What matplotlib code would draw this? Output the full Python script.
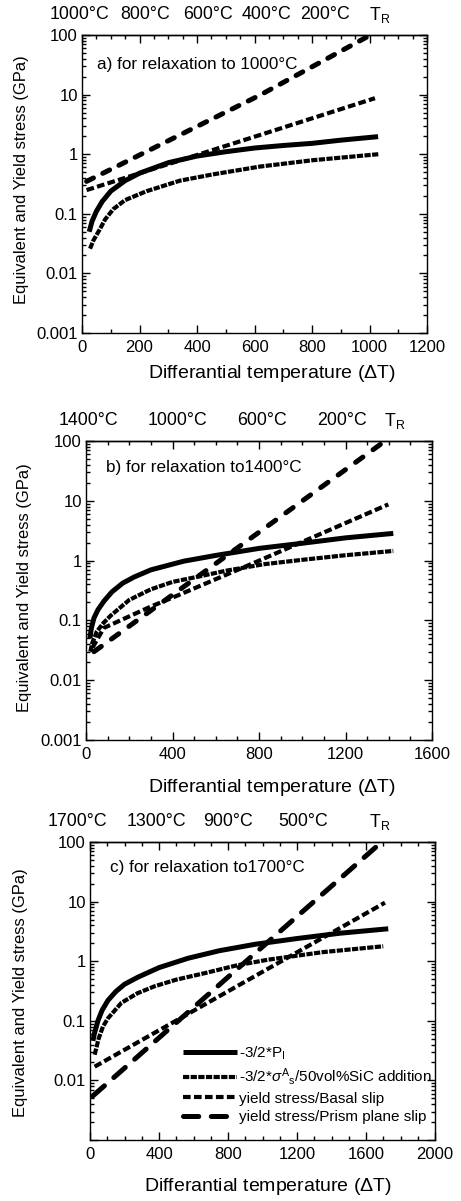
import matplotlib
matplotlib.use('Agg')
import matplotlib.pyplot as plt
from matplotlib.ticker import MultipleLocator, LogLocator, FixedLocator, FuncFormatter, NullFormatter

plt.rcParams['font.family'] = ['Liberation Sans', 'DejaVu Sans']
plt.rcParams['mathtext.fontset'] = 'custom'
plt.rcParams['mathtext.rm'] = 'Liberation Sans'
plt.rcParams['mathtext.it'] = 'Liberation Sans:italic'
plt.rcParams['mathtext.sf'] = 'Liberation Sans'
plt.rcParams['lines.scale_dashes'] = False

# values (x = differential temperature, y = stress in GPa)
# a) relaxation to 1000 C
a_dT_pi = [25, 35, 50, 70, 100, 150, 200, 300, 400, 500, 600, 700, 800, 900, 1030]
a_pi = [0.05, 0.075, 0.11, 0.16, 0.24, 0.36, 0.48, 0.72, 0.93, 1.1, 1.27, 1.4, 1.52, 1.72, 1.97]
a_dT_sic = [28, 40, 62, 80, 109, 150, 225, 341, 457, 619, 800, 1031]
a_sic = [0.026, 0.036, 0.055, 0.08, 0.12, 0.17, 0.24, 0.36, 0.46, 0.62, 0.79, 1.0]
a_dT_basal = [16, 619, 1019]
a_basal = [0.25, 2.1, 8.7]
a_dT_prism = [16, 619, 995]
a_prism = [0.35, 9.8, 95]
a_top_pos = [-7, 219, 438, 643, 845, 1037]
a_top_lab = ['1000°C', '800°C', '600°C', '400°C', '200°C', r'T$_\mathrm{R}$']

# b) relaxation to 1400 C
b_dT_pi = [18, 25, 37, 55, 83, 120, 170, 222, 300, 453, 600, 800, 1000, 1200, 1421]
b_pi = [0.05, 0.075, 0.11, 0.15, 0.21, 0.3, 0.42, 0.53, 0.7, 0.98, 1.22, 1.6, 1.95, 2.4, 2.85]
b_dT_sic = [20, 29, 50, 80, 114, 200, 299, 400, 530, 650, 823, 1000, 1200, 1421]
b_sic = [0.03, 0.042, 0.065, 0.09, 0.12, 0.22, 0.33, 0.44, 0.55, 0.68, 0.87, 1.03, 1.23, 1.45]
b_dT_basal = [30, 83, 299, 400, 781, 1398]
b_basal = [0.035, 0.075, 0.17, 0.24, 0.93, 8.7]
b_dT_prism = [37, 1383]
b_prism = [0.03, 100]
b_top_pos = [9, 425, 814, 1183, 1429]
b_top_lab = ['1400°C', '1000°C', '600°C', '200°C', r'T$_\mathrm{R}$']

# c) relaxation to 1700 C
c_dT_pi = [17, 25, 46, 70, 104, 150, 200, 278, 400, 568, 750, 956, 1200, 1450, 1729]
c_pi = [0.046, 0.06, 0.1, 0.15, 0.22, 0.31, 0.41, 0.54, 0.78, 1.12, 1.5, 1.92, 2.4, 2.95, 3.5]
c_dT_sic = [27, 50, 75, 104, 182, 275, 375, 500, 665, 850, 1032, 1350, 1700]
c_sic = [0.027, 0.05, 0.08, 0.11, 0.2, 0.29, 0.38, 0.49, 0.63, 0.85, 1.06, 1.42, 1.78]
c_dT_basal = [27, 1710]
c_basal = [0.017, 9.6]
c_dT_prism = [17, 1691]
c_prism = [0.0055, 100]
c_top_pos = [-70, 388, 800, 1235, 1681]
c_top_lab = ['1700°C', '1300°C', '900°C', '500°C', r'T$_\mathrm{R}$']

series_labels = [r'-3/2*P$_\mathrm{I}$',
                 r'-3/2*$\sigma^\mathrm{A}{}_\mathrm{s}$/50vol%SiC addition',
                 'yield stress/Basal slip',
                 'yield stress/Prism plane slip']
decades = [0.001, 0.01, 0.1, 1, 10, 100]

fig = plt.figure(figsize=(4.61, 12.01), dpi=100)


def panel(rect, xmax, xmajor, topminor, curves, top_pos, top_lab, title,
          title_xy, xlab_xy, ylab_xy, prism_dash, show001=True):
  ax = fig.add_axes(rect)
  (dpi_, pi_), (dsic, sic), (dbas, bas), (dpr, pr) = curves
  l1, = ax.plot(dpi_, pi_, color='k', lw=3.6, solid_capstyle='butt')
  l2, = ax.plot(dsic, sic, color='k', lw=3.0, dashes=(4.5, 1.0), dash_capstyle='butt')
  l3, = ax.plot(dbas, bas, color='k', lw=3.0, dashes=(5.5, 2.4), dash_capstyle='butt')
  l4, = ax.plot(dpr, pr, color='k', lw=3.6, dashes=prism_dash, dash_capstyle='round')
  ax.set_yscale('log')
  ax.set_ylim(1e-3, 100)
  ax.set_xlim(0, xmax)
  ax.yaxis.set_major_locator(FixedLocator(decades))
  ax.yaxis.set_minor_locator(LogLocator(base=10, subs=range(2, 10)))
  ax.yaxis.set_minor_formatter(NullFormatter())
  if show001:
    ax.yaxis.set_major_formatter(FuncFormatter(lambda v, p: '%g' % v))
  else:
    ax.yaxis.set_major_formatter(FuncFormatter(lambda v, p: '' if v < 0.005 else '%g' % v))
  ax.xaxis.set_major_locator(MultipleLocator(xmajor))
  ax.xaxis.set_minor_locator(MultipleLocator(100))
  ax.tick_params(which='both', direction='in', right=True, top=False, width=1.0)
  ax.tick_params(which='major', length=5.5, labelsize=12)
  ax.tick_params(which='minor', length=3)
  ax.tick_params(axis='x', pad=5)
  ax.tick_params(axis='y', pad=3)
  sec = ax.secondary_xaxis('top')
  sec.xaxis.set_major_locator(MultipleLocator(xmajor))
  sec.xaxis.set_minor_locator(MultipleLocator(topminor))
  sec.tick_params(which='both', direction='in', labeltop=False, width=1.0)
  sec.tick_params(which='major', length=5.5)
  sec.tick_params(which='minor', length=3)
  for s in list(ax.spines.values()) + list(sec.spines.values()):
    s.set_linewidth(1.0)
  tr = ax.get_xaxis_transform()
  for p, t in zip(top_pos, top_lab):
    ax.text(p, 1.068, t, transform=tr, ha='center', va='center', fontsize=12.8,
            clip_on=False)
  ax.text(title_xy[0], title_xy[1], title, transform=ax.transAxes, ha='left',
          va='center', fontsize=12.3)
  ax.text(xlab_xy[0], xlab_xy[1], r'Differantial temperature ($\Delta$T)',
          transform=ax.transAxes, ha='center', va='center', fontsize=14)
  ax.text(ylab_xy[0], ylab_xy[1], 'Equivalent and Yield stress (GPa)',
          transform=ax.transAxes, ha='center', va='center', rotation=90,
          fontsize=11.9)
  return ax, [l1, l2, l3, l4]


axa, _ = panel([82/461, 1-333/1201, 345/461, 298/1201], 1200, 200, 50,
               [(a_dT_pi, a_pi), (a_dT_sic, a_sic), (a_dT_basal, a_basal), (a_dT_prism, a_prism)],
               a_top_pos, a_top_lab, 'a) for relaxation to 1000°C',
               (0.043, 0.90), (0.551, -0.135), (-0.174, 0.513), (5.5, 7.5))

axb, _ = panel([86/461, 1-740/1201, 346/461, 299/1201], 1600, 400, 100,
               [(b_dT_pi, b_pi), (b_dT_sic, b_sic), (b_dT_basal, b_basal), (b_dT_prism, b_prism)],
               b_top_pos, b_top_lab, 'b) for relaxation to1400°C',
               (0.058, 0.913), (0.538, -0.16), (-0.179, 0.508), (6.5, 9))

axc, lines = panel([90/461, 1-1140/1201, 345/461, 298/1201], 2000, 400, 100,
                   [(c_dT_pi, c_pi), (c_dT_sic, c_sic), (c_dT_basal, c_basal), (c_dT_prism, c_prism)],
                   c_top_pos, c_top_lab, 'c) for relaxation to1700°C',
                   (0.058, 0.916), (0.516, -0.155), (-0.20, 0.493), (11, 9), show001=False)

axc.legend(lines, series_labels, loc='upper left', bbox_to_anchor=(0.27, 0.32),
           frameon=False, fontsize=11, handlelength=3.5, handletextpad=0.15,
           labelspacing=0.28, borderpad=0, borderaxespad=0)

fig.savefig('out.png', dpi=100)
